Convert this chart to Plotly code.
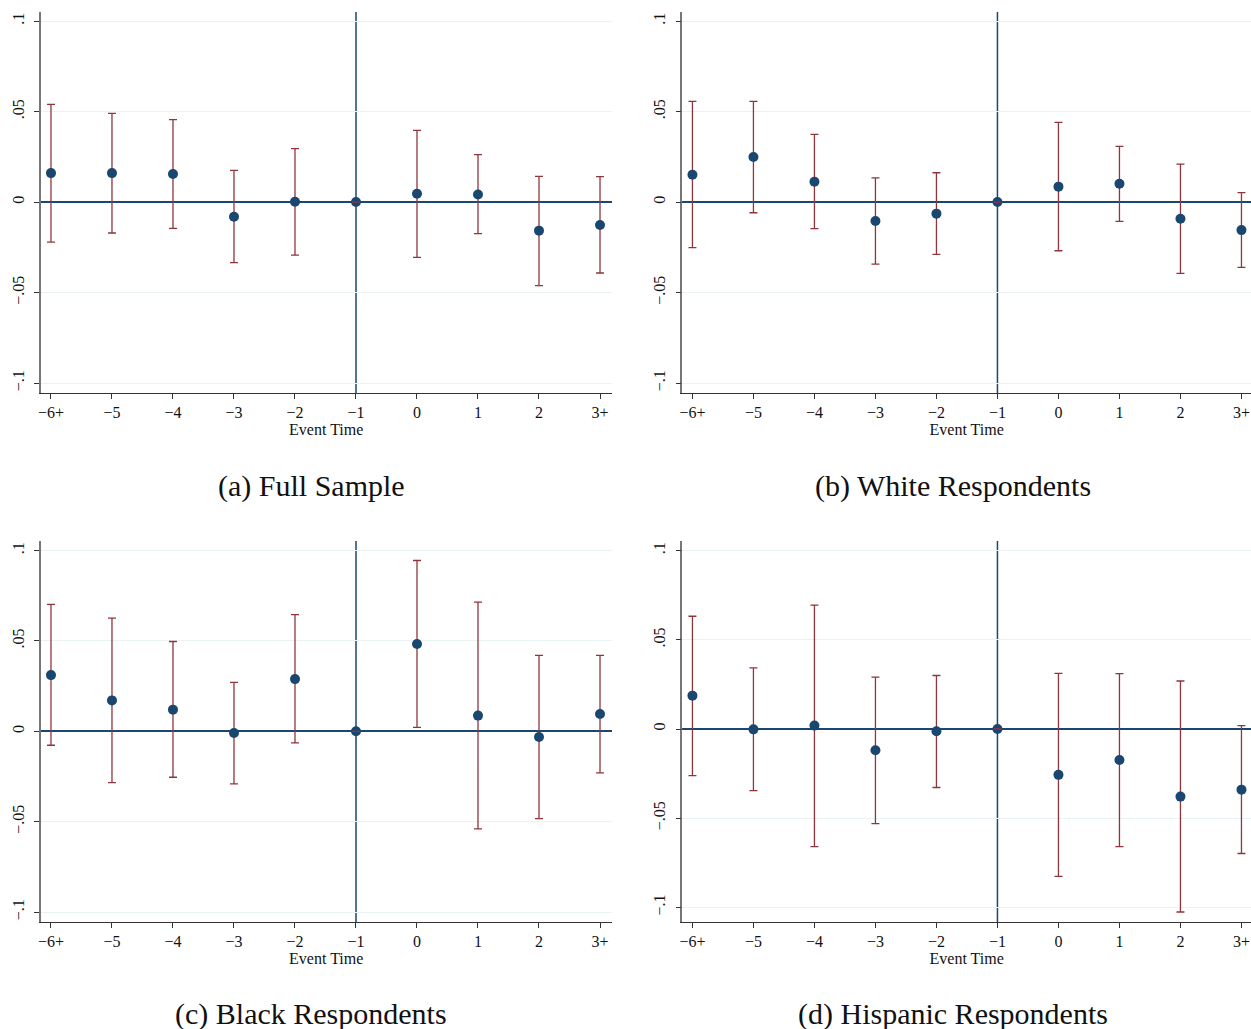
import plotly.graph_objects as go

event_labels = ["\u22126+", "\u22125", "\u22124", "\u22123", "\u22122", "\u22121", "0", "1", "2", "3+"]
ytick_vals = [-0.1, -0.05, 0, 0.05, 0.1]
ytick_text = ["\u2212.1", "\u2212.05", "0", ".05", ".1"]

full_est = [0.0160, 0.0160, 0.0155, -0.0081, 0.0002, 0.0, 0.0046, 0.0042, -0.0158, -0.0127]
full_hi  = [0.0540, 0.0490, 0.0455, 0.0175, 0.0295, 0.0, 0.0396, 0.0262, 0.0142, 0.0140]
full_lo  = [-0.0221, -0.0171, -0.0145, -0.0335, -0.0293, 0.0, -0.0306, -0.0175, -0.0462, -0.0392]

white_est = [0.0151, 0.0249, 0.0112, -0.0105, -0.0064, 0.0, 0.0085, 0.0101, -0.0092, -0.0155]
white_hi  = [0.0556, 0.0556, 0.0374, 0.0133, 0.0162, 0.0, 0.0440, 0.0308, 0.0210, 0.0052]
white_lo  = [-0.0252, -0.0059, -0.0147, -0.0343, -0.0289, 0.0, -0.0269, -0.0107, -0.0394, -0.0361]

black_est = [0.0311, 0.0171, 0.0120, -0.0009, 0.0289, 0.0, 0.0483, 0.0087, -0.0031, 0.0096]
black_hi  = [0.0702, 0.0626, 0.0497, 0.0271, 0.0646, 0.0, 0.0945, 0.0715, 0.0420, 0.0420]
black_lo  = [-0.0077, -0.0284, -0.0254, -0.0291, -0.0064, 0.0, 0.0022, -0.0540, -0.0483, -0.0230]

hisp_est = [0.0187, -0.0002, 0.0019, -0.0119, -0.0013, 0.0, -0.0257, -0.0174, -0.0379, -0.0340]
hisp_hi  = [0.0632, 0.0343, 0.0694, 0.0291, 0.0300, 0.0, 0.0312, 0.0310, 0.0269, 0.0019]
hisp_lo  = [-0.0261, -0.0345, -0.0659, -0.0530, -0.0328, 0.0, -0.0826, -0.0659, -0.1026, -0.0698]

captions = ["(a) Full Sample", "(b) White Respondents", "(c) Black Respondents", "(d) Hispanic Respondents"]
panels = [(full_est, full_hi, full_lo), (white_est, white_hi, white_lo),
          (black_est, black_hi, black_lo), (hisp_est, hisp_hi, hisp_lo)]

W, H = 1251, 1029
NAVY = "#1a476f"
MAROON = "#90353b"
GRID = "#eaf2f3"
FONT = "Liberation Serif"

# pixel geometry of plot areas: (left, right, top, bottom)
boxes = [(38, 610, 12, 393), (681, 1251, 12, 393), (38, 610, 541, 922), (681, 1251, 541, 922)]
yranges = [[-0.1055, 0.1050], [-0.1055, 0.1050], [-0.1055, 0.1053], [-0.1082, 0.1054]]
caption_y = [486, 486, 1014, 1014]
caption_x = [309, 952, 309, 952]

fig = go.Figure()
xs = list(range(len(event_labels)))

for i, (est, hi, lo) in enumerate(panels):
    n = i + 1
    xa = "x" if n == 1 else f"x{n}"
    ya = "y" if n == 1 else f"y{n}"
    plus = [h - e for h, e in zip(hi, est)]
    minus = [e - l for e, l in zip(est, lo)]
    # confidence interval caps
    fig.add_trace(go.Scatter(
        x=xs, y=est, mode="markers", xaxis=xa, yaxis=ya,
        marker=dict(size=1, opacity=0),
        error_y=dict(type="data", symmetric=False, array=plus, arrayminus=minus,
                     color=MAROON, thickness=1.3, width=4),
        showlegend=False, hoverinfo="skip"))
    # point estimates
    fig.add_trace(go.Scatter(
        x=xs, y=est, mode="markers", xaxis=xa, yaxis=ya,
        marker=dict(size=10, color=NAVY),
        showlegend=False))
    # zero-width intervals (reference period) drawn on top
    zx = [x for x, h, l in zip(xs, hi, lo) if h == l]
    zy = [e for e, h, l in zip(est, hi, lo) if h == l]
    fig.add_trace(go.Scatter(
        x=zx, y=zy, mode="markers", xaxis=xa, yaxis=ya,
        marker=dict(size=1, opacity=0),
        error_y=dict(type="data", array=[0] * len(zx), color=MAROON, thickness=1.3, width=4),
        showlegend=False, hoverinfo="skip"))

    l, r, t, b = boxes[i]
    x0 = -0.165
    x1 = x0 + (r - l) / 61.15
    fig.layout[f"xaxis{'' if n == 1 else n}"] = dict(
        domain=[l / W, min(r / W, 1.0)], anchor=ya, range=[x0, x1],
        tickmode="array", tickvals=xs, ticktext=event_labels,
        ticks="outside", ticklen=5, tickwidth=1, tickcolor="#333",
        showline=True, linecolor="#333", linewidth=1.3, showgrid=False, zeroline=False,
        tickfont=dict(family=FONT, size=16, color="#111"),
        title=dict(text="Event Time", font=dict(family=FONT, size=16, color="#111"), standoff=0))
    fig.layout[f"yaxis{'' if n == 1 else n}"] = dict(
        domain=[1 - b / H, 1 - t / H], anchor=xa, range=yranges[i],
        tickmode="array", tickvals=ytick_vals, ticktext=ytick_text, tickangle=-90,
        ticks="outside", ticklen=5, tickwidth=1, tickcolor="#333", ticklabelstandoff=4,
        showline=True, linecolor="#777", linewidth=1.5,
        showgrid=True, gridcolor=GRID, gridwidth=1,
        zeroline=True, zerolinecolor=NAVY, zerolinewidth=2,
        tickfont=dict(family=FONT, size=16, color="#111"))
    # reference line at event time -1
    fig.add_shape(type="line", xref=xa, yref=f"{ya} domain", x0=5, x1=5, y0=0, y1=1,
                  line=dict(color=NAVY, width=1.5), layer="below")
    fig.add_annotation(text=captions[i], xref="paper", yref="paper",
                       x=caption_x[i] / W, y=1 - caption_y[i] / H, showarrow=False,
                       xanchor="center", yanchor="middle",
                       font=dict(family=FONT, size=30, color="#111"))

fig.update_layout(width=W, height=H, margin=dict(l=0, r=0, t=0, b=0),
                  paper_bgcolor="white", plot_bgcolor="white")

fig.write_html("out.html", config={"displayModeBar": False},
               post_script="document.body.style.margin='0';document.body.style.overflow='hidden';")
